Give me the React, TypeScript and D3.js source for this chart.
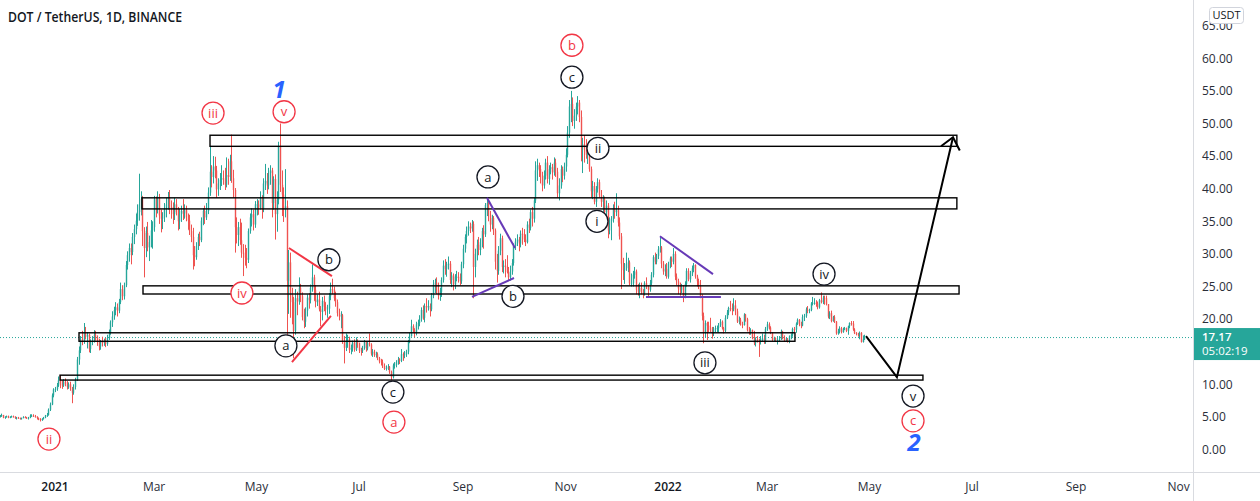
import React from "react";
import * as d3 from "d3";

type C = [number, number, number]; // [high, low, close]; open = previous close

const FIRST_DAY = "2020-11-28";
const FIRST_OPEN = 5.2;

const nov2020: C[] = [[5.4,4.9,5.1],[5.3,4.9,5.2],[5.5,5.0,5.3]];
const dec2020: C[] = [[5.2,4.8,4.9],[5.1,4.7,5.0],[5.2,4.9,5.1],[5.2,4.8,4.9],[5.1,4.8,5.0],[5.2,4.9,5.1],[5.2,4.9,5.0],[5.1,4.7,4.8],[5.0,4.6,4.9],[5.0,4.7,4.8],[4.9,4.6,4.7],[4.9,4.6,4.8],[5.1,4.8,5.0],[5.1,4.8,4.9],[5.0,4.7,4.8],[5.0,4.6,4.9],[5.4,4.8,5.2],[5.4,5.0,5.2],[5.4,5.0,5.1],[5.3,4.9,5.0],[5.1,4.6,4.8],[4.9,4.5,4.7],[4.8,4.3,4.5],[4.8,4.4,4.7],[5.0,4.6,4.9],[5.3,4.8,5.2],[5.6,5.0,5.3],[6.3,5.2,6.1],[7.2,5.9,6.9],[8.6,6.8,8.3],[9.4,8.0,9.2]];
const jan2021: C[] = [[9.6,8.8,9.3],[10.2,9.0,9.8],[11.2,9.6,10.6],[11.4,9.4,10.1],[10.6,9.3,9.8],[10.8,9.6,10.4],[10.9,9.7,10.0],[10.5,9.2,9.6],[10.3,9.3,10.0],[10.4,9.0,9.4],[9.6,7.1,8.7],[10.0,8.4,9.6],[11.0,9.2,10.7],[14.2,10.5,13.8],[15.8,13.0,15.2],[17.4,14.8,16.9],[18.2,16.0,16.6],[19.4,16.2,18.0],[18.8,16.9,17.3],[18.0,15.5,17.6],[17.8,14.9,15.4],[16.9,14.8,16.6],[17.4,16.0,16.7],[18.3,16.4,17.6],[18.2,16.7,17.2],[17.5,15.9,16.6],[17.0,15.2,15.8],[16.8,15.3,16.5],[17.3,15.8,16.4],[17.0,15.9,16.7],[17.1,15.7,16.2]];
const feb2021: C[] = [[17.6,15.9,17.1],[18.4,16.8,18.0],[19.8,17.6,19.5],[21.2,18.8,20.4],[21.9,19.9,21.4],[22.6,20.6,21.8],[22.4,20.4,21.3],[23.1,20.9,22.6],[25.6,22.3,24.6],[25.2,22.9,23.5],[25.6,23.0,25.2],[28.9,24.9,28.3],[30.4,27.6,29.8],[31.6,28.8,30.9],[31.6,28.4,30.3],[33.2,29.8,32.6],[34.5,31.5,33.8],[36.2,33.0,35.1],[37.6,34.3,36.4],[42.3,35.1,37.6],[39.6,35.9,38.4],[38.9,31.2,33.5],[34.1,26.4,30.9],[34.2,29.5,33.2],[34.9,30.4,31.0],[32.8,28.9,31.8],[35.2,31.0,33.6],[35.0,30.8,34.1]];
const mar2021: C[] = [[38.9,33.4,38.4],[38.8,35.6,36.8],[39.6,36.2,38.6],[39.2,34.6,35.9],[36.8,33.3,35.4],[36.4,33.8,35.6],[37.8,34.9,36.9],[38.6,35.6,37.6],[39.5,36.8,38.6],[39.8,36.1,37.2],[38.2,35.4,37.1],[37.9,34.6,36.1],[38.6,35.2,37.6],[38.4,35.9,36.4],[37.2,33.6,35.0],[36.9,33.8,36.1],[37.4,34.9,36.6],[38.4,35.2,36.2],[37.6,35.4,36.7],[37.4,35.0,35.6],[36.2,33.7,35.1],[36.0,32.9,33.5],[34.5,31.8,32.6],[34.0,27.6,29.8],[31.2,28.1,29.5],[31.8,29.1,31.2],[33.1,30.6,32.6],[33.4,31.2,32.1],[35.6,31.8,35.1],[37.0,34.4,36.6],[37.4,34.6,35.6]];
const apr2021: C[] = [[37.8,35.2,36.6],[40.2,36.1,39.4],[46.4,38.9,42.6],[43.6,40.2,41.8],[45.0,40.8,43.4],[44.9,41.6,42.8],[43.5,38.6,39.9],[41.6,38.9,40.8],[42.4,39.8,41.4],[43.6,40.4,41.6],[42.8,40.6,41.4],[43.2,39.8,40.6],[44.8,40.2,42.1],[44.6,40.6,41.8],[45.2,41.2,44.2],[48.3,40.9,41.6],[42.9,38.6,39.8],[40.1,30.2,34.1],[35.6,31.6,32.9],[34.9,31.2,34.1],[35.4,31.4,32.1],[34.8,29.4,30.2],[31.5,26.6,30.0],[31.4,28.2,29.4],[30.9,27.8,29.1],[33.9,28.6,33.5],[36.2,33.1,35.6],[37.0,34.2,36.1],[36.8,33.6,34.5],[38.1,34.0,37.6]];
const may2021: C[] = [[38.4,35.9,37.6],[38.2,36.0,37.1],[39.6,36.8,38.7],[39.0,35.4,36.9],[41.6,36.4,40.8],[43.8,39.8,41.2],[42.4,39.2,40.5],[43.2,39.9,42.4],[43.6,40.6,42.8],[43.2,35.6,37.8],[41.9,36.8,41.5],[42.2,32.2,36.1],[39.6,33.4,38.3],[47.2,37.6,46.5],[50.0,39.5,40.6],[42.8,35.8,39.1],[40.2,34.9,36.8],[43.0,35.6,37.3],[38.2,14.2,25.9],[30.6,20.8,28.7],[30.2,20.2,23.7],[24.8,19.2,22.6],[23.4,14.0,18.2],[24.6,17.6,23.2],[24.2,20.6,22.7],[26.4,22.2,24.8],[25.4,22.6,23.5],[24.1,19.8,20.3],[21.6,18.6,19.6],[21.8,18.8,21.3],[23.8,20.4,23.3]];
const jun2021: C[] = [[24.0,21.6,22.9],[25.3,22.4,24.8],[28.4,24.2,26.4],[26.8,22.8,24.5],[25.2,21.8,22.6],[23.8,22.0,23.0],[24.2,21.2,21.5],[22.0,18.9,21.1],[23.4,19.8,22.8],[23.6,21.2,21.9],[22.6,20.6,21.6],[22.2,20.2,21.6],[24.0,20.8,23.5],[25.6,22.9,24.6],[26.2,23.8,24.5],[25.0,22.8,23.2],[24.2,21.9,22.6],[23.0,20.4,20.9],[21.6,19.8,20.4],[21.2,18.6,20.6],[20.8,16.2,16.6],[17.4,13.2,15.6],[17.8,15.1,16.5],[17.6,15.6,16.9],[17.3,14.8,15.3],[16.1,14.6,15.6],[16.7,15.0,16.4],[16.9,15.0,15.3],[17.2,15.1,16.5],[16.9,15.6,16.3]];
const jul2021: C[] = [[16.4,14.8,15.2],[15.6,14.4,15.1],[15.9,14.8,15.6],[16.8,15.3,16.5],[16.6,15.0,15.5],[16.6,15.2,16.3],[17.8,15.8,16.1],[16.3,14.4,14.7],[15.4,14.2,15.0],[15.3,14.2,14.5],[15.0,14.1,14.6],[14.9,13.7,14.0],[14.2,13.2,13.5],[13.9,12.9,13.4],[13.8,12.5,12.8],[13.2,12.2,12.4],[12.9,12.1,12.5],[13.1,12.2,12.7],[12.8,11.6,11.9],[12.1,10.6,11.1],[13.2,10.9,12.9],[13.4,12.4,13.0],[13.7,12.6,13.4],[14.2,13.0,13.8],[14.0,13.1,13.6],[15.4,13.4,14.6],[14.9,13.6,14.5],[15.1,14.0,14.6],[15.3,14.2,15.0],[16.8,14.6,16.6],[17.9,16.3,17.4]];
const aug2021: C[] = [[19.9,17.3,18.9],[19.2,17.9,18.3],[18.6,17.2,17.8],[19.6,17.5,19.2],[19.9,18.4,19.4],[20.6,18.9,20.0],[21.8,19.6,21.4],[22.1,19.9,20.2],[22.4,19.5,22.0],[23.2,21.0,21.8],[22.9,21.3,22.0],[22.4,20.4,21.5],[24.0,21.2,23.6],[26.0,23.2,25.3],[26.2,24.0,25.6],[26.4,23.8,24.5],[25.6,23.0,23.6],[24.8,22.8,24.2],[26.4,23.4,26.0],[29.0,25.6,28.2],[29.2,26.8,27.7],[28.8,26.5,28.4],[29.6,27.6,28.5],[28.9,25.4,26.0],[27.2,24.9,26.7],[27.0,24.4,25.3],[26.9,24.6,26.5],[27.4,25.8,26.5],[27.2,25.6,26.4],[27.0,25.2,25.8],[28.8,25.4,28.4]];
const sep2021: C[] = [[31.4,27.8,30.8],[33.0,30.2,32.6],[34.2,31.6,33.5],[35.0,32.8,34.2],[34.8,33.2,33.9],[35.2,33.4,34.6],[35.0,23.2,28.0],[30.8,26.4,30.0],[32.2,29.0,31.4],[32.6,29.8,30.6],[32.4,29.8,31.8],[34.0,31.0,33.5],[34.4,30.8,33.0],[37.8,32.6,37.5],[38.7,35.8,37.8],[38.2,35.0,36.0],[36.6,33.4,34.5],[36.0,33.8,35.5],[35.8,32.9,33.6],[33.9,27.6,28.8],[30.0,25.6,27.4],[31.2,26.8,30.5],[33.1,29.8,32.4],[32.8,27.2,28.0],[29.0,27.0,28.2],[29.2,26.4,28.0],[29.8,27.0,27.2],[28.0,26.0,26.4],[28.2,25.9,27.3],[29.2,26.8,28.6]];
const oct2021: C[] = [[31.6,28.2,31.2],[32.4,30.6,31.9],[33.0,31.2,32.2],[32.6,30.4,31.6],[33.6,31.0,33.1],[34.0,31.4,33.0],[33.8,31.8,32.2],[33.0,31.2,31.8],[35.0,31.6,34.5],[35.4,33.2,34.0],[36.8,33.6,36.4],[37.2,34.2,35.4],[38.6,34.8,38.2],[44.2,37.8,42.8],[44.6,41.2,43.6],[44.0,41.8,43.0],[43.6,40.8,42.0],[42.6,39.6,40.5],[42.8,40.0,42.0],[44.6,41.4,44.0],[45.0,40.8,41.5],[43.6,40.6,43.0],[44.0,42.2,43.3],[43.8,41.4,42.5],[44.8,42.0,44.0],[44.6,41.8,42.6],[43.2,38.6,39.3],[41.6,38.2,40.5],[43.6,40.0,43.0],[43.4,41.0,42.0],[44.0,41.4,43.4]];
const nov2021: C[] = [[46.2,42.6,45.2],[49.6,44.8,48.6],[53.6,47.8,52.6],[55.0,50.2,53.0],[54.0,49.6,50.4],[52.2,49.2,51.2],[53.2,50.4,52.6],[54.2,51.4,53.2],[53.6,50.2,51.0],[52.0,44.2,46.4],[47.8,42.4,46.8],[48.2,44.0,46.0],[47.6,44.6,45.2],[46.8,43.8,45.6],[46.4,42.6,43.0],[43.4,38.6,39.6],[41.2,38.4,40.4],[41.0,37.6,38.0],[40.4,37.2,40.0],[41.6,39.4,41.0],[41.4,38.6,39.0],[39.8,37.2,38.0],[39.0,36.4,38.4],[38.8,35.8,36.4],[38.2,35.6,37.4],[37.8,32.4,33.6],[35.6,33.0,35.0],[35.8,32.1,35.4],[37.6,34.8,37.0],[38.0,35.4,36.4]];
const dec2021: C[] = [[39.3,35.8,36.7],[37.4,34.2,34.8],[35.6,32.2,32.7],[33.2,24.6,28.5],[29.4,26.0,27.5],[28.6,25.4,27.8],[30.2,27.4,28.5],[29.4,27.2,28.7],[29.0,25.2,25.5],[27.0,25.0,25.5],[27.4,25.0,26.8],[28.0,26.2,27.3],[27.6,23.8,24.5],[25.4,23.6,24.2],[25.6,23.2,24.8],[25.6,23.8,24.2],[24.6,23.2,24.0],[25.8,23.6,25.5],[26.4,24.6,25.0],[25.2,23.4,24.5],[26.0,24.2,25.5],[27.2,25.2,26.8],[29.8,26.4,29.5],[30.2,28.4,28.8],[30.0,28.4,29.7],[31.2,29.2,30.7],[32.6,30.2,31.0],[31.2,27.8,28.5],[28.9,26.8,27.3],[28.4,26.6,27.7],[28.6,26.2,26.5]];
const jan2022: C[] = [[28.8,26.2,28.5],[29.6,27.8,29.3],[29.6,28.0,28.8],[30.9,28.4,30.0],[30.4,26.0,26.5],[27.0,25.2,25.8],[26.2,23.8,24.7],[25.6,23.6,24.5],[25.4,24.0,24.9],[25.2,22.6,23.5],[25.8,23.2,25.4],[27.8,25.0,27.4],[27.8,25.8,26.1],[27.4,25.6,27.0],[28.2,26.6,27.8],[28.6,27.2,28.3],[28.4,26.2,26.5],[26.8,25.0,25.8],[26.2,24.6,25.1],[26.0,23.2,23.5],[23.8,19.8,20.5],[21.0,16.3,17.9],[19.8,17.2,19.4],[19.6,16.8,19.0],[19.6,18.0,18.7],[20.2,18.0,18.3],[18.8,17.0,17.8],[18.8,17.4,18.5],[19.0,18.0,18.6],[19.0,18.0,18.6],[19.4,17.9,19.1]];
const feb2022: C[] = [[20.0,18.8,19.6],[19.8,18.4,18.6],[18.8,17.8,18.2],[20.6,18.0,20.2],[21.4,20.0,21.0],[21.9,20.6,21.7],[22.8,21.2,21.6],[22.4,20.6,21.5],[23.2,21.2,22.1],[22.9,20.6,21.2],[21.6,19.4,19.6],[20.4,19.2,19.9],[20.2,19.0,19.2],[19.6,18.6,19.1],[20.9,19.0,20.7],[20.8,19.6,20.0],[20.2,18.1,18.3],[18.8,17.6,17.9],[18.6,17.6,18.3],[18.4,16.9,17.1],[18.2,16.0,16.3],[17.2,15.8,16.9],[17.4,16.4,16.6],[17.0,14.2,16.5],[17.4,16.1,17.0],[17.8,16.6,17.0],[17.6,16.2,16.5],[18.8,16.2,18.5]];
const mar2022: C[] = [[19.6,18.2,19.2],[19.5,18.4,18.7],[18.9,17.7,17.9],[18.0,16.6,16.8],[17.3,16.6,17.1],[17.2,16.5,16.7],[17.4,16.1,16.7],[17.4,16.5,16.9],[18.4,16.8,18.1],[18.2,16.9,17.1],[17.5,16.5,16.7],[17.1,16.6,16.9],[17.1,16.4,16.6],[17.5,16.3,17.3],[17.8,16.9,17.6],[18.7,17.3,18.5],[18.8,18.0,18.4],[19.5,17.9,19.3],[20.1,19.1,19.9],[20.0,18.9,19.2],[19.6,18.6,19.0],[20.7,18.9,20.3],[20.8,19.7,20.5],[21.8,20.2,21.5],[22.0,20.9,21.3],[21.6,20.9,21.4],[22.6,21.2,22.4],[23.4,22.1,22.5],[23.2,22.2,22.5],[22.9,21.9,22.4],[22.7,21.5,21.8]];
const apr2022: C[] = [[23.1,21.6,22.9],[24.1,22.4,22.6],[23.6,22.3,23.3],[23.6,22.2,23.2],[23.6,22.1,22.3],[22.3,20.1,20.4],[21.2,20.0,20.9],[21.3,19.5,19.7],[20.5,19.6,20.3],[20.6,19.4,19.6],[19.7,17.6,17.8],[18.5,17.6,18.1],[18.9,17.8,18.6],[18.8,17.8,18.0],[18.7,17.9,18.5],[18.8,18.3,18.6],[18.7,18.0,18.2],[19.0,17.6,18.9],[19.5,18.6,19.4],[19.7,19.0,19.3],[19.7,18.2,18.4],[18.6,17.7,17.9],[18.0,17.5,17.7],[17.9,17.3,17.5],[18.1,16.9,17.9],[18.0,16.4,16.5],[17.5,16.4,16.9],[17.6,16.8,17.17]];

const candleMonths: C[][] = [nov2020, dec2020, jan2021, feb2021, mar2021, apr2021, may2021, jun2021, jul2021, aug2021, sep2021, oct2021, nov2021, dec2021, jan2022, feb2022, mar2022, apr2022];

const LAST_PRICE = "17.17";
const COUNTDOWN = "05:02:19";

const priceTicks = [0, 5, 10, 15, 20, 25, 30, 35, 40, 45, 50, 55, 60, 65];
const timeTicks = [
  { d: "2021-01-01", label: "2021", year: true },
  { d: "2021-03-01", label: "Mar", year: false },
  { d: "2021-05-01", label: "May", year: false },
  { d: "2021-07-01", label: "Jul", year: false },
  { d: "2021-09-01", label: "Sep", year: false },
  { d: "2021-11-01", label: "Nov", year: false },
  { d: "2022-01-01", label: "2022", year: true },
  { d: "2022-03-01", label: "Mar", year: false },
  { d: "2022-05-01", label: "May", year: false },
  { d: "2022-07-01", label: "Jul", year: false },
  { d: "2022-09-01", label: "Sep", year: false },
  { d: "2022-11-01", label: "Nov", year: false },
];

// time given as days since 2021-01-01
const zones = [
  { t0: 92.3, t1: 537, top: 48.2, bottom: 46.5 },
  { t0: 51.8, t1: 537, top: 38.6, bottom: 36.9 },
  { t0: 52.4, t1: 538.3, top: 25.1, bottom: 23.85 },
  { t0: 14.3, t1: 440.6, top: 17.9, bottom: 16.6 },
  { t0: 3, t1: 516.8, top: 11.4, bottom: 10.65 },
];

const blackLabels = [
  { t: 137.5, p: 15.9, s: "a" }, { t: 163.1, p: 29.1, s: "b" }, { t: 201.2, p: 8.8, s: "c" },
  { t: 257.8, p: 41.8, s: "a" }, { t: 272.7, p: 23.5, s: "b" }, { t: 307.8, p: 57.1, s: "c" },
  { t: 323.3, p: 46.2, s: "ii" }, { t: 322.7, p: 35.0, s: "i" }, { t: 387, p: 13.3, s: "iii" },
  { t: 457.9, p: 26.9, s: "iv" }, { t: 510.9, p: 8.2, s: "v" },
];
const redLabels = [
  { t: 94.1, p: 51.6, s: "iii" }, { t: 136.4, p: 51.8, s: "v" }, { t: 111.3, p: 24.0, s: "iv" },
  { t: -3.6, p: 1.6, s: "ii" }, { t: 307.8, p: 62.0, s: "b" }, { t: 201.8, p: 4.2, s: "a" },
  { t: 510.9, p: 4.4, s: "c" },
];
const blueLabels = [
  { t: 133.4, p: 55.2, s: "1" }, { t: 511.5, p: 1.0, s: "2" },
];

const redLines = [
  [{ t: 139.3, p: 30.9 }, { t: 164.9, p: 26.6 }],
  [{ t: 141.1, p: 13.4 }, { t: 164.3, p: 20.5 }],
];
const purpleLines = [
  [{ t: 257.2, p: 38.6 }, { t: 273.9, p: 30.9 }],
  [{ t: 248.3, p: 23.4 }, { t: 273.3, p: 26.3 }],
  [{ t: 360.2, p: 32.7 }, { t: 391.8, p: 26.9 }],
  [{ t: 351.9, p: 23.4 }, { t: 396.5, p: 23.4 }],
];
const projection = [{ t: 482.9, p: 17.4 }, { t: 501.3, p: 11.1 }, { t: 534.7, p: 47.9 }];

const UP = "#26a69a";
const DOWN = "#ef5350";
const FONT = "'Open Sans', 'Noto Sans', sans-serif";

export default function App() {
  const W = 1260, H = 501;
  const plotRight = 1193, axisY = 472;
  const DAY = 86400000;
  const T0 = Date.UTC(2021, 0, 1);
  const x = d3.scaleUtc().domain([new Date(T0), new Date(Date.UTC(2022, 0, 1))]).range([55, 668]);
  const y = d3.scaleLinear().domain([0, 65]).range([449.5, 25.7]);
  const tx = (t: number) => x(new Date(T0 + t * DAY));
  const parse = d3.utcParse("%Y-%m-%d");
  const start = parse(FIRST_DAY)!;

  let prev = FIRST_OPEN;
  const candles = candleMonths.flat().map((c, i) => {
    const o = prev;
    prev = c[2];
    return { date: d3.utcDay.offset(start, i), o, h: Math.max(c[0], o, c[2]), l: Math.min(c[1], o, c[2]), c: c[2] };
  });

  const line = d3.line<{ t: number; p: number }>().x((d) => tx(d.t)).y((d) => y(d.p));

  const tip = projection[2];
  const prevPt = projection[1];
  const tipX = tx(tip.t), tipY = y(tip.p);
  const bx = tx(prevPt.t) - tipX, by = y(prevPt.p) - tipY;
  const bl = Math.hypot(bx, by);
  const ux = bx / bl, uy = by / bl;
  const ang = (40 * Math.PI) / 180, L = 15;
  const w1 = [tipX + L * (Math.cos(ang) * ux - Math.sin(ang) * uy), tipY + L * (Math.sin(ang) * ux + Math.cos(ang) * uy)];
  const w2 = [tipX + L * (Math.cos(-ang) * ux - Math.sin(-ang) * uy), tipY + L * (Math.sin(-ang) * ux + Math.cos(-ang) * uy)];

  const lastY = y(parseFloat(LAST_PRICE));

  const circleLabel = (d: { t: number; p: number; s: string }, color: string, key: string) => (
    <g key={key} transform={`translate(${tx(d.t)},${y(d.p)})`}>
      <circle r={11} fill="#fff" stroke={color} strokeWidth={1.3} />
      <text textAnchor="middle" dy="0.35em" fontSize={13} fill={color} fontFamily={FONT}>{d.s}</text>
    </g>
  );

  return (
    <svg width={W} height={H} style={{ position: "absolute", left: 0, top: 0, display: "block", background: "#fff" }}>
      <defs>
        <clipPath id="plot"><rect x={0} y={0} width={plotRight} height={axisY} /></clipPath>
      </defs>
      <rect width={W} height={H} fill="#fff" />
      <g clipPath="url(#plot)">
        <line x1={0} x2={plotRight} y1={lastY} y2={lastY} stroke={UP} strokeWidth={1} strokeDasharray="1,2" />
        {candles.map((d, i) => {
          const cx = Math.round(x(d.date)) + 0.5;
          const col = d.c >= d.o ? UP : DOWN;
          const yt = y(Math.max(d.o, d.c)), yb = y(Math.min(d.o, d.c));
          return (
            <g key={i}>
              <line x1={cx} x2={cx} y1={y(d.h)} y2={y(d.l)} stroke={col} strokeWidth={1} />
              <rect x={cx - 0.7} y={yt} width={1.4} height={Math.max(1, yb - yt)} fill={col} />
            </g>
          );
        })}
        {zones.map((z, i) => (
          <rect key={i} x={tx(z.t0)} y={y(z.top)} width={tx(z.t1) - tx(z.t0)} height={y(z.bottom) - y(z.top)} fill="none" stroke="#000" strokeWidth={1.4} />
        ))}
        {redLines.map((l, i) => <path key={i} d={line(l)!} stroke="#f23645" strokeWidth={2} fill="none" />)}
        {purpleLines.map((l, i) => <path key={i} d={line(l)!} stroke="#673ab7" strokeWidth={2} fill="none" />)}
        <path d={line(projection)!} stroke="#000" strokeWidth={2} fill="none" />
        <path d={`M${w1[0]},${w1[1]}L${tipX},${tipY}L${w2[0]},${w2[1]}`} stroke="#000" strokeWidth={2} fill="none" />
        {blackLabels.map((d, i) => circleLabel(d, "#131722", "k" + i))}
        {redLabels.map((d, i) => circleLabel(d, "#f23645", "r" + i))}
        {blueLabels.map((d, i) => (
          <text key={i} x={tx(d.t)} y={y(d.p)} dy="0.35em" textAnchor="middle" fontSize={24} fontWeight="bold" fontStyle="italic" fill="#2962ff" fontFamily={FONT}>{d.s}</text>
        ))}
      </g>

      <text x={8} y={22} fontSize={14} fontWeight={600} fill="#131722" fontFamily={FONT} textLength={174} lengthAdjust="spacingAndGlyphs">DOT / TetherUS, 1D, BINANCE</text>

      <line x1={0} x2={W} y1={axisY + 0.5} y2={axisY + 0.5} stroke="#d9dbe0" strokeWidth={1} />
      <line x1={plotRight + 0.5} x2={plotRight + 0.5} y1={0} y2={H} stroke="#d9dbe0" strokeWidth={1} />

      {priceTicks.map((p) => (
        <text key={p} x={1202} y={y(p)} dy="0.35em" fontSize={12} fill="#2a2e39" fontFamily={FONT}>{p.toFixed(2)}</text>
      ))}
      <rect x={1209.5} y={7.5} width={34} height={16} rx={3} fill="#fff" stroke="#d1d4dc" />
      <text x={1226.5} y={15.5} dy="0.35em" textAnchor="middle" fontSize={11} fill="#131722" fontFamily={FONT}>USDT</text>

      <rect x={plotRight + 1} y={lastY - 9.5} width={W - plotRight - 1} height={32} fill={UP} />
      <text x={1202} y={lastY - 1} dy="0.35em" fontSize={11.5} fontWeight={600} fill="#fff" fontFamily={FONT}>{LAST_PRICE}</text>
      <text x={1202} y={lastY + 13.5} dy="0.35em" fontSize={11.5} fill="#fff" fontFamily={FONT}>{COUNTDOWN}</text>

      {timeTicks.map((tk) => (
        <text key={tk.d} x={x(parse(tk.d)!)} y={487} dy="0.35em" textAnchor="middle" fontSize={12} fontWeight={tk.year ? 600 : 400} fill={tk.year ? "#131722" : "#2a2e39"} fontFamily={FONT}>{tk.label}</text>
      ))}
    </svg>
  );
}
